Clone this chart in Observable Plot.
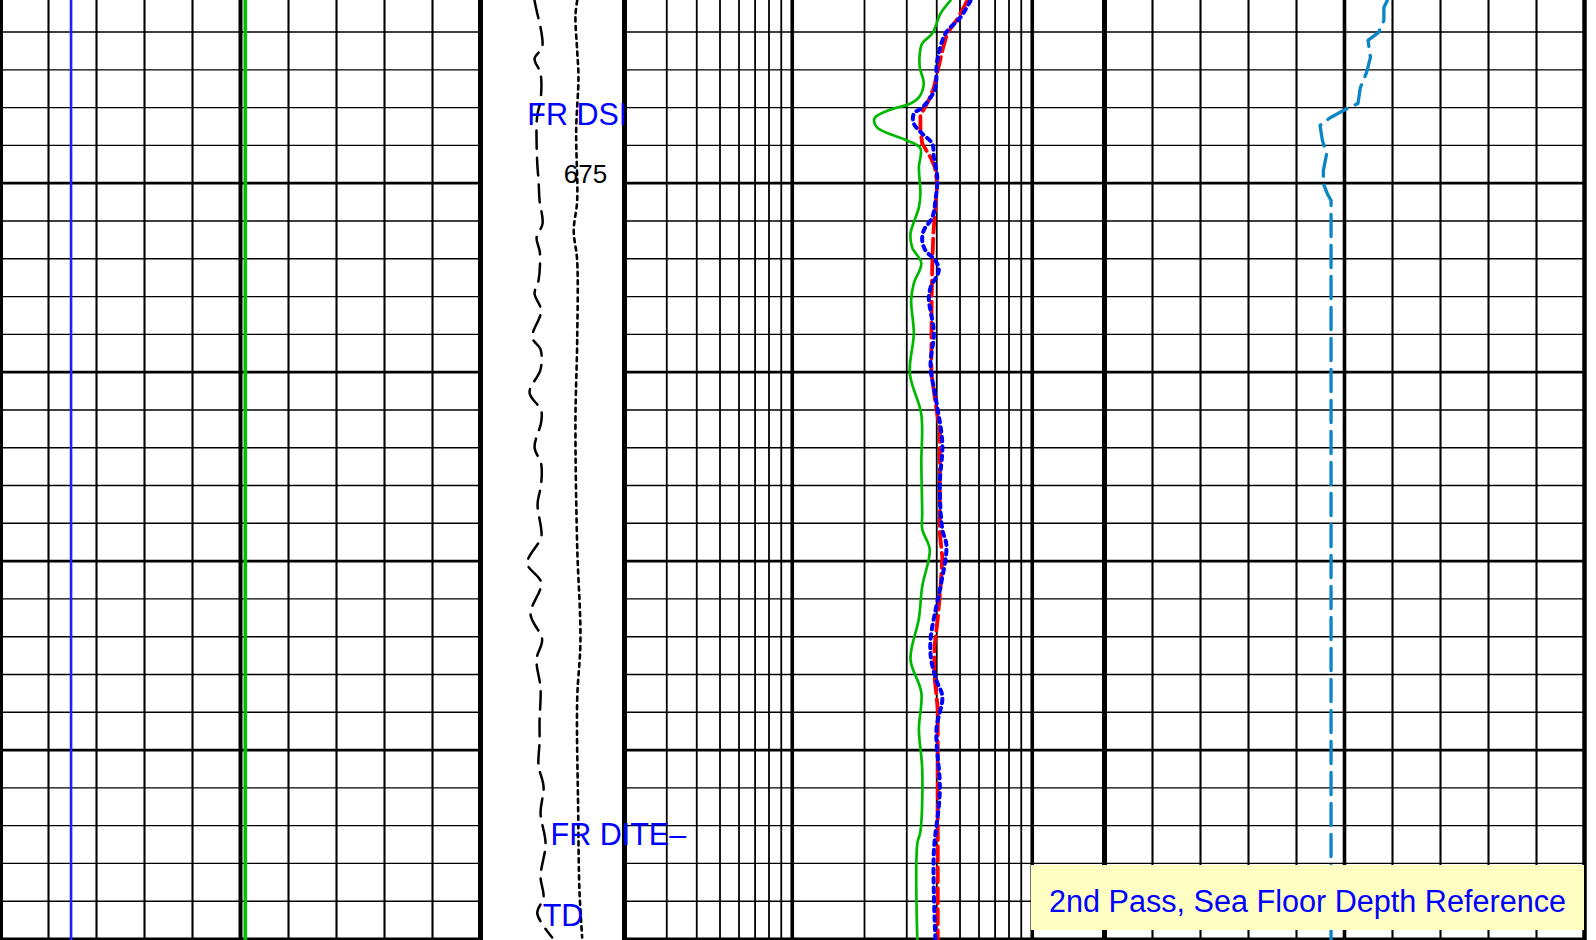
<!DOCTYPE html>
<html>
<head>
<meta charset="utf-8">
<script src="https://cdn.jsdelivr.net/npm/d3@7"></script>
<script src="https://cdn.jsdelivr.net/npm/@observablehq/plot@0.6"></script>
<style>
  html, body { margin: 0; padding: 0; background: #ffffff; }
  #chart { position: relative; width: 1596px; height: 940px; overflow: hidden; background: #ffffff; font-family: "Liberation Sans", Arial, sans-serif; }
  #chart svg { position: absolute; left: 0; top: 0; }
  #note { position: absolute; left: 1031px; top: 865px; width: 553px; height: 65px; overflow: hidden; background: #ffffc4;
          color: #0000ff; font: 30.6px "Liberation Sans", Arial, sans-serif; line-height: 73px; text-align: center; }
</style>
</head>
<body>
<div id="chart"><div id="note">2nd Pass, Sea Floor Depth Reference</div></div>
<script>
// ---- depth grid (ft) ----
const depthDomain = [670.165, 695.04];
const depthMinor = [671,672,673,674,676,677,678,679,681,682,683,684,686,687,688,689,691,692,693,694];
const depthMajor = [675,680,685,690,695];
const depthLabels = [675];

// ---- track 1 (linear 0-10) ----
const track1Minor = [1,2,3,4,6,7,8,9];
const track1Major = [5];
const track1Edges = [0,10];
const track1Blue = [1.47];
const track1Green = [5.1];

// ---- depth track curves (0-100) ----
const dtDashDepth = [670.17,670.51,670.88,671.41,671.70,672.10,672.81,673.16,673.47,674.48,674.93,675.46,676.07,676.44,676.83,677.57,677.92,678.37,679.08,679.40,679.93,680.54,681.01,681.33,681.99,682.42,682.97,683.50,684.14,684.38,685.06,685.57,686.41,687.07,687.60,688.37,689.22,689.77,690.41,690.97,691.68,692.47,693.35,693.90,694.32,694.96];
const dtDashValue = [37.8,39.7,42.0,43.1,37.8,42.0,42.0,39.9,39.2,39.7,40.6,41.3,43.4,39.2,41.5,40.6,37.8,42.4,36.2,42.0,42.0,34.3,42.4,42.4,37.8,42.4,42.4,39.9,42.4,42.4,32.7,42.4,35.0,43.1,39.2,42.0,41.3,41.3,40.6,44.1,42.0,45.5,42.0,44.1,39.7,50.1];
const dtDotDepth = [670.17,670.56,671.49,672.20,673.61,675.46,676.25,677.05,679.19,681.28,684.59,687.07,688.69,691.60,693.72,694.96];
const dtDotValue = [67.6,66.4,67.6,68.5,66.9,67.6,65.2,67.6,67.6,66.4,67.6,69.9,67.6,68.3,69.2,71.1];

// ---- track 2 (log 0.2-20) ----
const track2Minor = [0.3,0.4,0.5,0.6,0.7,0.8,0.9,2,3,4,5,6,7,8,9];
const track2Decades = [1,10];
const track2Edges = [0.2,20];
const greenDepth = [670.17,670.51,671.04,671.30,671.57,671.94,672.36,672.73,672.89,673.08,673.29,673.53,673.87,674.08,674.58,675.27,675.64,676.33,676.70,677.12,677.65,678.10,678.98,680.04,681.12,682.42,683.71,684.16,684.69,685.67,686.52,687.60,688.48,689.46,690.51,692.16,692.47,695.04];
const greenValue = [4.56,4.15,3.83,3.48,3.40,3.40,3.53,3.37,3.11,2.49,2.20,2.26,3.01,3.42,3.37,3.42,3.37,3.11,3.16,3.45,3.21,3.13,3.21,3.09,3.45,3.45,3.48,3.48,3.74,3.48,3.37,3.11,3.45,3.37,3.48,3.42,3.32,3.32];
const redDepth = [670.17,670.61,671.04,671.49,672.02,672.47,672.81,673.21,673.61,673.95,674.32,674.58,675.01,675.64,676.33,677.23,678.10,679.19,680.04,680.80,681.57,683.50,684.27,684.90,685.67,686.52,687.29,688.03,688.90,695.04];
const redValue = [5.36,4.93,4.42,4.22,4.04,3.89,3.70,3.42,3.42,3.48,3.77,3.93,4.02,3.95,3.87,3.83,3.81,3.80,3.80,3.95,4.12,4.12,4.12,4.22,4.15,4.04,3.91,3.91,4.04,4.04];
const blueDepth = [670.17,670.61,671.04,671.75,672.47,672.73,673.00,673.16,673.42,673.69,673.95,674.32,674.85,675.46,675.91,676.25,676.52,676.78,677.05,677.31,677.76,678.10,678.45,678.98,679.82,680.80,681.89,682.97,684.16,684.59,685.67,686.31,687.07,687.60,688.16,688.58,689.46,691.07,692.68,693.77,695.04];
const blueValue = [5.53,5.02,4.35,4.02,3.95,3.77,3.48,3.21,3.21,3.48,3.83,3.89,4.02,3.95,3.83,3.53,3.48,3.59,3.95,4.08,3.77,3.71,3.79,3.89,3.77,3.99,4.22,4.12,4.22,4.39,4.15,3.95,3.77,3.79,3.99,4.22,3.99,4.12,3.89,3.89,3.95];

// ---- track 3 (linear 0-10) ----
const track3Minor = [1,2,3,4,6,7,8,9];
const track3Major = [5];
const track3Edges = [0,10];
const cyanDepth = [670.17,670.35,670.69,671.01,671.22,671.67,672.07,672.47,672.89,673.02,673.26,673.47,673.87,674.21,674.66,675.01,675.27,675.46,695.04];
const cyanValue = [5.89,5.82,5.82,5.71,5.49,5.54,5.46,5.33,5.28,5.06,4.71,4.49,4.54,4.63,4.56,4.56,4.64,4.72,4.72];

// ---- annotations in depth track ----
const tagLabels = ["FR DSI", "FR DITE\u2013", "TD"];
const tagDepths = [673.47, 692.52, 694.65];
const tagValues = [32.7, 49.0, 43.5];

const zip = (d, v) => d.map((depth, i) => ({depth, value: v[i]}));
const chart = document.getElementById("chart");
const note = document.getElementById("note");

function layer(xOpts, marks, bg) {
  const svg = Plot.plot({
    width: 1596, height: 940, margin: 0,
    x: {...xOpts, axis: null},
    y: {domain: depthDomain, range: [0, 940], axis: null},
    style: {background: bg || "transparent", overflow: "visible"},
    marks
  });
  chart.insertBefore(svg, note);
}

function horiz(x1, x2) {
  return [
    Plot.ruleY(depthMinor, {y: d => d, x1, x2, stroke: "#000", strokeWidth: 1.4}),
    Plot.ruleY(depthMajor, {y: d => d, x1, x2, stroke: "#000", strokeWidth: 2.8})
  ];
}

// Depth track
layer({type: "linear", domain: [0, 100], range: [480, 623]}, [
  Plot.line(zip(dtDashDepth, dtDashValue), {x: "value", y: "depth", stroke: "#000", strokeWidth: 2.5, strokeDasharray: "18,9", curve: "catmull-rom"}),
  Plot.line(zip(dtDotDepth, dtDotValue), {x: "value", y: "depth", stroke: "#000", strokeWidth: 2.6, strokeDasharray: "4,4.5", curve: "catmull-rom"})
], "#ffffff");

// Track 1
layer({type: "linear", domain: [0, 10], range: [0, 480]}, [
  ...horiz(0, 10),
  Plot.ruleX(track1Minor, {x: d => d, stroke: "#000", strokeWidth: 2.1}),
  Plot.ruleX(track1Major, {x: d => d, stroke: "#000", strokeWidth: 4}),
  Plot.ruleX(track1Edges, {x: d => d, stroke: "#000", strokeWidth: 5}),
  Plot.ruleX(track1Blue, {x: d => d, stroke: "#1f1fff", strokeWidth: 2.6}),
  Plot.ruleX(track1Green, {x: d => d, stroke: "#00c000", strokeWidth: 3.6})
]);

// Track 2
layer({type: "log", domain: [0.2, 20], range: [624, 1104]}, [
  ...horiz(0.2, 20),
  Plot.ruleX(track2Minor, {x: d => d, stroke: "#000", strokeWidth: 1.8}),
  Plot.ruleX(track2Decades, {x: d => d, stroke: "#000", strokeWidth: 3.6}),
  Plot.ruleX(track2Edges, {x: d => d, stroke: "#000", strokeWidth: 5}),
  Plot.line(zip(greenDepth, greenValue), {x: "value", y: "depth", stroke: "#00b800", strokeWidth: 2.7, curve: "catmull-rom"}),
  Plot.line(zip(redDepth, redValue), {x: "value", y: "depth", stroke: "#ff0000", strokeWidth: 3.8, strokeDasharray: "15,6"}),
  Plot.line(zip(blueDepth, blueValue), {x: "value", y: "depth", stroke: "#0000ff", strokeWidth: 4, strokeDasharray: "4.5,5", curve: "catmull-rom"})
]);

// Track 3
layer({type: "linear", domain: [0, 10], range: [1104, 1584]}, [
  ...horiz(0, 10),
  Plot.ruleX(track3Minor, {x: d => d, stroke: "#000", strokeWidth: 2.1}),
  Plot.ruleX(track3Major, {x: d => d, stroke: "#000", strokeWidth: 3.6}),
  Plot.ruleX(track3Edges, {x: d => d, stroke: "#000", strokeWidth: 4.5}),
  Plot.line(zip(cyanDepth, cyanValue), {x: "value", y: "depth", stroke: "#0a86c6", strokeWidth: 3.3, strokeDasharray: "22,9"})
]);

// Labels
layer({type: "linear", domain: [0, 100], range: [480, 623]}, [
  Plot.text(depthLabels, {x: 73.4, y: d => d, text: d => String(d), fill: "#000", fontSize: 26, lineAnchor: "bottom", textAnchor: "middle", fontFamily: "Liberation Sans, Arial, sans-serif"}),
  Plot.text(tagLabels, {x: (d, i) => tagValues[i], y: (d, i) => tagDepths[i], text: d => d, fill: "#0000ff", fontSize: 30.5, lineAnchor: "bottom", textAnchor: "start", fontFamily: "Liberation Sans, Arial, sans-serif"})
]);
</script>
</body>
</html>
